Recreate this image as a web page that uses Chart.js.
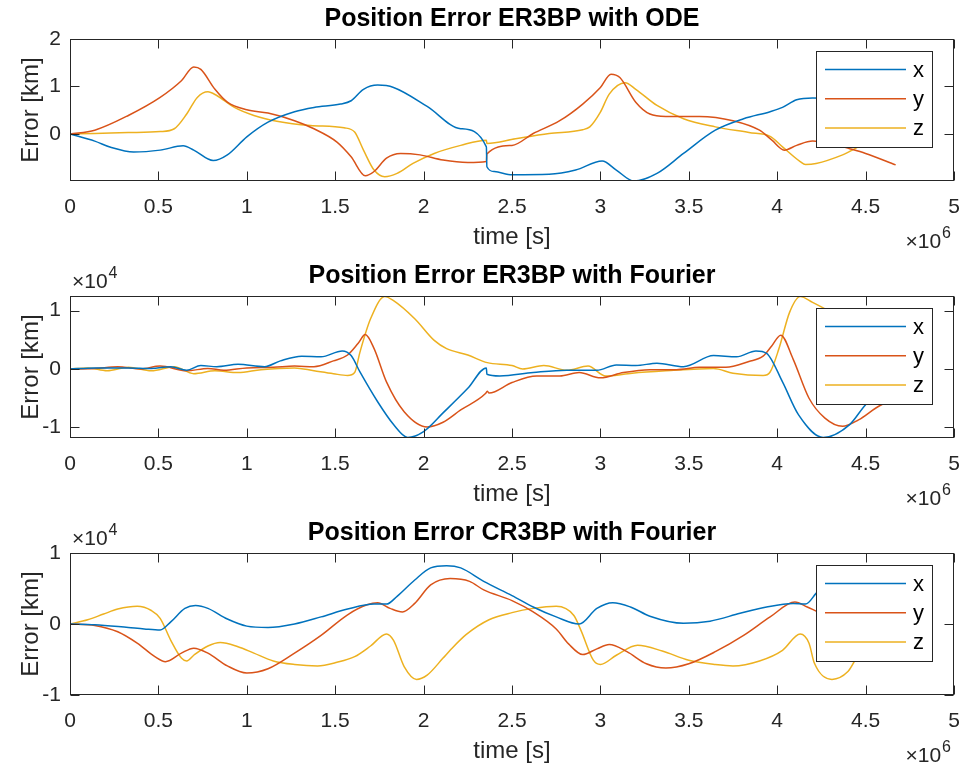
<!DOCTYPE html>
<html>
<head>
<meta charset="utf-8">
<title>Position Error</title>
<script src="https://cdn.jsdelivr.net/npm/chart.js@4.4.1/dist/chart.umd.min.js"></script>
<style>
	html, body { margin: 0; padding: 0; background: #fff; }
	canvas { display: block; }
</style>
</head>
<body>
<canvas id="er3bp-ode" width="964" height="257"></canvas>
<canvas id="er3bp-fourier" width="964" height="257"></canvas>
<canvas id="cr3bp-fourier" width="964" height="257"></canvas>
<script>
// time axis in units of 1e6 s, errors in the units shown on each y axis
const xTicks = [0, 0.5, 1, 1.5, 2, 2.5, 3, 3.5, 4, 4.5, 5];
const names = ['x', 'y', 'z'];
const colors = ['#0072BD', '#D95319', '#EDB120'];

// Position Error ER3BP with ODE  [km]
const odeYTicks = [0, 1, 2];
const odeX = [[0,0],[0.14,-0.15],[0.23,-0.28],[0.36,-0.38],[0.51,-0.34],[0.64,-0.25],[0.70,-0.34],[0.81,-0.56],[0.89,-0.44],[1.0,-0.06],[1.12,0.25],[1.27,0.47],[1.38,0.56],[1.53,0.63],[1.59,0.70],[1.66,0.94],[1.74,1.03],[1.83,0.98],[2.02,0.58],[2.21,0.11],[2.355,-0.27],[2.358,-0.69],[2.40,-0.79],[2.5,-0.86],[2.71,-0.85],[2.86,-0.76],[3.01,-0.57],[3.09,-0.76],[3.19,-0.99],[3.32,-0.83],[3.47,-0.41],[3.65,0.08],[3.81,0.32],[3.96,0.47],[4.03,0.56],[4.11,0.72],[4.2,0.76],[4.3,0.75],[4.45,0.62],[4.6,0.45],[4.68,0.38]];
const odeY = [[0,0],[0.14,0.08],[0.33,0.39],[0.51,0.77],[0.63,1.12],[0.70,1.41],[0.74,1.36],[0.82,0.94],[0.89,0.67],[1.0,0.51],[1.12,0.44],[1.27,0.28],[1.38,0.11],[1.51,-0.17],[1.59,-0.48],[1.67,-0.88],[1.72,-0.79],[1.79,-0.51],[1.87,-0.41],[1.98,-0.44],[2.11,-0.55],[2.25,-0.60],[2.355,-0.58],[2.358,-0.42],[2.5,-0.24],[2.62,0.01],[2.77,0.28],[2.9,0.63],[3.0,0.98],[3.06,1.26],[3.11,1.19],[3.2,0.67],[3.28,0.42],[3.37,0.37],[3.56,0.37],[3.75,0.28],[3.9,0.08],[3.97,-0.13],[4.04,-0.34],[4.11,-0.24],[4.2,-0.15],[4.3,-0.2],[4.41,-0.31],[4.5,-0.41],[4.67,-0.65]];
const odeZ = [[0,0],[0.14,0.01],[0.33,0.03],[0.51,0.05],[0.59,0.11],[0.66,0.42],[0.72,0.77],[0.78,0.89],[0.83,0.81],[0.93,0.56],[1.04,0.39],[1.17,0.27],[1.36,0.18],[1.55,0.13],[1.61,0.04],[1.66,-0.34],[1.72,-0.76],[1.78,-0.90],[1.85,-0.83],[1.94,-0.62],[2.06,-0.41],[2.21,-0.24],[2.355,-0.13],[2.358,-0.20],[2.52,-0.10],[2.71,0.01],[2.9,0.09],[2.94,0.15],[3.0,0.46],[3.05,0.84],[3.14,1.08],[3.2,0.94],[3.32,0.6],[3.47,0.32],[3.65,0.15],[3.84,0.03],[3.96,-0.05],[4.03,-0.27],[4.13,-0.58],[4.16,-0.64],[4.22,-0.62],[4.37,-0.44],[4.48,-0.24],[4.58,-0.15],[4.68,-0.08]];

// Position Error ER3BP with Fourier  [x1e4 km]
const erYTicks = [-1, 0, 1];
const erX = [[0,0],[0.14,0.02],[0.33,0.02],[0.46,0.01],[0.57,0.04],[0.66,-0.02],[0.74,0.06],[0.83,0.04],[0.95,0.08],[1.10,0.04],[1.19,0.14],[1.31,0.22],[1.42,0.21],[1.54,0.31],[1.59,0.23],[1.64,-0.05],[1.74,-0.56],[1.83,-0.95],[1.91,-1.17],[2.0,-1.07],[2.11,-0.75],[2.25,-0.33],[2.355,0.02],[2.358,-0.09],[2.43,-0.12],[2.62,-0.06],[2.81,-0.02],[2.98,-0.02],[3.09,0.07],[3.2,0.06],[3.32,0.10],[3.47,0.04],[3.64,0.23],[3.77,0.21],[3.88,0.31],[3.94,0.27],[4.03,-0.22],[4.12,-0.78],[4.26,-1.17],[4.41,-0.95],[4.5,-0.61],[4.6,-0.35],[4.68,-0.2]];
const erY = [[0,0],[0.14,0.01],[0.27,0.04],[0.40,0],[0.51,0.05],[0.66,-0.03],[0.78,0.01],[0.87,-0.02],[1.0,0.02],[1.15,0.03],[1.27,0.05],[1.38,0.04],[1.49,0.14],[1.57,0.24],[1.63,0.44],[1.67,0.59],[1.72,0.35],[1.79,-0.22],[1.89,-0.73],[2.02,-0.99],[2.11,-0.91],[2.21,-0.70],[2.35,-0.42],[2.36,-0.38],[2.37,-0.41],[2.5,-0.23],[2.64,-0.12],[2.77,-0.12],[2.88,-0.06],[3.0,-0.15],[3.13,-0.06],[3.28,-0.01],[3.43,-0.01],[3.56,0.03],[3.71,0.03],[3.84,0.13],[3.92,0.22],[3.97,0.4],[4.02,0.58],[4.09,0.17],[4.18,-0.5],[4.27,-0.84],[4.37,-0.98],[4.46,-0.87],[4.59,-0.61],[4.68,-0.55]];
const erZ = [[0,0],[0.10,0.02],[0.21,-0.03],[0.33,0.03],[0.46,-0.03],[0.59,0.04],[0.70,-0.08],[0.82,-0.03],[0.95,-0.06],[1.08,-0.01],[1.27,0.02],[1.38,-0.03],[1.49,-0.08],[1.57,-0.11],[1.61,-0.06],[1.64,0.29],[1.70,0.86],[1.78,1.24],[1.83,1.17],[1.95,0.86],[2.06,0.49],[2.13,0.35],[2.25,0.24],[2.36,0.11],[2.5,0.06],[2.56,0],[2.68,0.06],[2.81,-0.02],[2.93,0.05],[3.03,-0.12],[3.18,-0.07],[3.37,-0.03],[3.64,0.01],[3.75,-0.07],[3.92,-0.11],[3.96,-0.05],[4.01,0.35],[4.07,0.97],[4.13,1.24],[4.20,1.14],[4.35,0.9],[4.5,0.65],[4.68,0.45]];

// Position Error CR3BP with Fourier  [x1e4 km]
const crYTicks = [-1, 0, 1];
const crX = [[0,0],[0.14,-0.01],[0.33,-0.05],[0.42,-0.07],[0.51,-0.085],[0.57,0.03],[0.65,0.22],[0.71,0.26],[0.78,0.22],[0.89,0.07],[1.0,-0.03],[1.12,-0.05],[1.27,0],[1.42,0.10],[1.57,0.21],[1.72,0.28],[1.79,0.28],[1.85,0.39],[1.95,0.62],[2.04,0.79],[2.13,0.82],[2.21,0.79],[2.34,0.60],[2.5,0.40],[2.62,0.24],[2.75,0.10],[2.88,0],[2.98,0.22],[3.07,0.30],[3.17,0.24],[3.28,0.11],[3.47,0.01],[3.62,0.04],[3.79,0.15],[3.94,0.24],[4.09,0.29],[4.16,0.28],[4.23,0.46],[4.35,0.65],[4.5,0.6],[4.68,0.4]];
const crY = [[0,0],[0.14,-0.02],[0.27,-0.11],[0.38,-0.27],[0.48,-0.46],[0.54,-0.53],[0.63,-0.41],[0.70,-0.34],[0.78,-0.41],[0.89,-0.59],[1.0,-0.69],[1.12,-0.63],[1.27,-0.41],[1.42,-0.16],[1.57,0.13],[1.68,0.27],[1.74,0.30],[1.81,0.22],[1.88,0.17],[1.95,0.29],[2.04,0.55],[2.15,0.64],[2.26,0.60],[2.34,0.48],[2.5,0.33],[2.62,0.17],[2.75,-0.07],[2.82,-0.28],[2.9,-0.43],[2.98,-0.35],[3.05,-0.29],[3.15,-0.39],[3.26,-0.56],[3.37,-0.62],[3.5,-0.56],[3.65,-0.39],[3.81,-0.16],[3.96,0.10],[4.1,0.31],[4.17,0.24],[4.23,0.17],[4.35,0.05],[4.5,-0.1],[4.68,-0.3]];
const crZ = [[0,0],[0.10,0.06],[0.19,0.14],[0.27,0.21],[0.38,0.25],[0.46,0.19],[0.51,0.08],[0.57,-0.23],[0.63,-0.48],[0.66,-0.52],[0.70,-0.44],[0.78,-0.31],[0.85,-0.26],[0.95,-0.32],[1.04,-0.41],[1.15,-0.52],[1.27,-0.57],[1.40,-0.59],[1.51,-0.54],[1.61,-0.46],[1.70,-0.31],[1.79,-0.14],[1.83,-0.23],[1.89,-0.60],[1.96,-0.78],[2.02,-0.72],[2.11,-0.48],[2.15,-0.37],[2.24,-0.15],[2.37,0.06],[2.5,0.16],[2.62,0.22],[2.75,0.25],[2.85,0.12],[2.89,-0.09],[2.96,-0.51],[3.0,-0.57],[3.09,-0.44],[3.21,-0.30],[3.35,-0.38],[3.5,-0.51],[3.65,-0.57],[3.75,-0.59],[3.9,-0.52],[4.03,-0.37],[4.13,-0.14],[4.18,-0.27],[4.21,-0.55],[4.31,-0.78],[4.4,-0.67],[4.45,-0.48],[4.55,-0.3],[4.68,-0.15]];

const FONT = "'Liberation Sans', Arial, Helvetica, sans-serif";
const AXIS = '#262626';
Chart.defaults.font.family = FONT;

// multiplier text like "×10" with a raised exponent
function drawExp(ctx, exp, x, y, align) {
	ctx.font = '21px ' + FONT;
	const base = '\u00d710';
	const wb = ctx.measureText(base).width;
	ctx.font = '16px ' + FONT;
	const we = ctx.measureText(exp).width;
	let left = align === 'right' ? x - wb - we - 1 : x;
	ctx.textBaseline = 'alphabetic';
	ctx.textAlign = 'left';
	ctx.fillStyle = AXIS;
	ctx.font = '21px ' + FONT;
	ctx.fillText(base, left, y);
	ctx.font = '16px ' + FONT;
	ctx.fillText(exp, left + wb + 1, y - 10);
}

// matlab style box, inward ticks, exponents and boxed legend
const frame = {
	id: 'frame',
	afterDatasetsDraw(chart, args, opts) {
		const ctx = chart.ctx;
		const a = chart.chartArea;
		const xs = chart.scales.x, ys = chart.scales.y;
		const L = Math.round(a.left) + 0.5, R = Math.round(a.right) - 0.5;
		const T = Math.round(a.top) + 0.5, B = Math.round(a.bottom) - 0.5;
		ctx.save();
		ctx.strokeStyle = AXIS;
		ctx.lineWidth = 1;
		ctx.strokeRect(L, T, R - L, B - T);
		ctx.beginPath();
		xs.ticks.forEach(t => {
			const px = Math.round(xs.getPixelForValue(t.value)) + 0.5;
			ctx.moveTo(px, B); ctx.lineTo(px, B - 9);
			ctx.moveTo(px, T); ctx.lineTo(px, T + 9);
		});
		ys.ticks.forEach(t => {
			const py = Math.round(ys.getPixelForValue(t.value)) + 0.5;
			ctx.moveTo(L, py); ctx.lineTo(L + 9, py);
			ctx.moveTo(R, py); ctx.lineTo(R - 9, py);
		});
		ctx.stroke();

		drawExp(ctx, '6', a.right - 3, a.bottom + 67, 'right');
		if (opts.yExp) drawExp(ctx, opts.yExp, a.left + 2, a.top - 8, 'left');

		// legend
		const lw = 116, lh = 96;
		const lx = Math.round(a.right) - 22 - lw, ly = Math.round(a.top) + 12;
		ctx.fillStyle = '#fff';
		ctx.fillRect(lx, ly, lw, lh);
		ctx.strokeStyle = '#262626';
		ctx.strokeRect(lx + 0.5, ly + 0.5, lw, lh);
		ctx.font = '22px ' + FONT;
		ctx.textAlign = 'left';
		ctx.textBaseline = 'middle';
		chart.data.datasets.forEach((ds, i) => {
			const ry = ly + 18.5 + i * 29.3;
			ctx.strokeStyle = ds.borderColor;
			ctx.lineWidth = 1.5;
			ctx.beginPath();
			ctx.moveTo(lx + 9, ry); ctx.lineTo(lx + 90, ry);
			ctx.stroke();
			ctx.fillStyle = '#000';
			ctx.fillText(ds.label, lx + 97, ry + 1);
		});
		ctx.restore();
	}
};

function panel(id, title, series, yMin, yMax, yTicks, yExp) {
	new Chart(document.getElementById(id), {
		type: 'line',
		data: {
			datasets: series.map((s, i) => ({
				label: names[i],
				data: s.map(p => ({x: p[0], y: p[1]})),
				borderColor: colors[i],
				borderWidth: 1.5,
				pointRadius: 0,
				fill: false,
				cubicInterpolationMode: 'monotone'
			}))
		},
		options: {
			responsive: false,
			animation: false,
			devicePixelRatio: 1,
			layout: {padding: {right: 10}},
			plugins: {
				legend: {display: false},
				tooltip: {enabled: false},
				title: {
					display: true,
					fullSize: false,
					text: title,
					color: '#000',
					font: {size: 25, weight: 'bold'},
					padding: {top: 4, bottom: 5}
				},
				frame: {yExp: yExp}
			},
			scales: {
				x: {
					type: 'linear',
					min: 0,
					max: 5,
					grid: {display: false, drawTicks: false},
					border: {display: false},
					afterBuildTicks: s => { s.ticks = xTicks.map(v => ({value: v})); },
					afterFit: s => { s.height = 76; s.paddingLeft = 0; s.paddingRight = 0; },
					ticks: {padding: 14, color: AXIS, font: {size: 21}, maxRotation: 0, autoSkip: false, callback: v => String(v)},
					title: {display: true, text: 'time [s]', color: AXIS, font: {size: 24}, padding: {top: 0, bottom: 5}}
				},
				y: {
					type: 'linear',
					min: yMin,
					max: yMax,
					grid: {display: false, drawTicks: false},
					border: {display: false},
					afterBuildTicks: s => { s.ticks = yTicks.map(v => ({value: v})); },
					afterFit: s => { s.width = 70; s.paddingTop = 0; s.paddingBottom = 0; },
					ticks: {padding: 9, color: AXIS, font: {size: 21}, callback: v => String(v)},
					title: {display: true, text: 'Error [km]', color: AXIS, font: {size: 24}, padding: {top: 17, bottom: 0}}
				}
			}
		},
		plugins: [frame]
	});
}

panel('er3bp-ode', 'Position Error ER3BP with ODE', [odeX, odeY, odeZ], -0.99, 2, odeYTicks, null);
panel('er3bp-fourier', 'Position Error ER3BP with Fourier', [erX, erY, erZ], -1.18, 1.25, erYTicks, '4');
panel('cr3bp-fourier', 'Position Error CR3BP with Fourier', [crX, crY, crZ], -1, 1, crYTicks, '4');
</script>
</body>
</html>
